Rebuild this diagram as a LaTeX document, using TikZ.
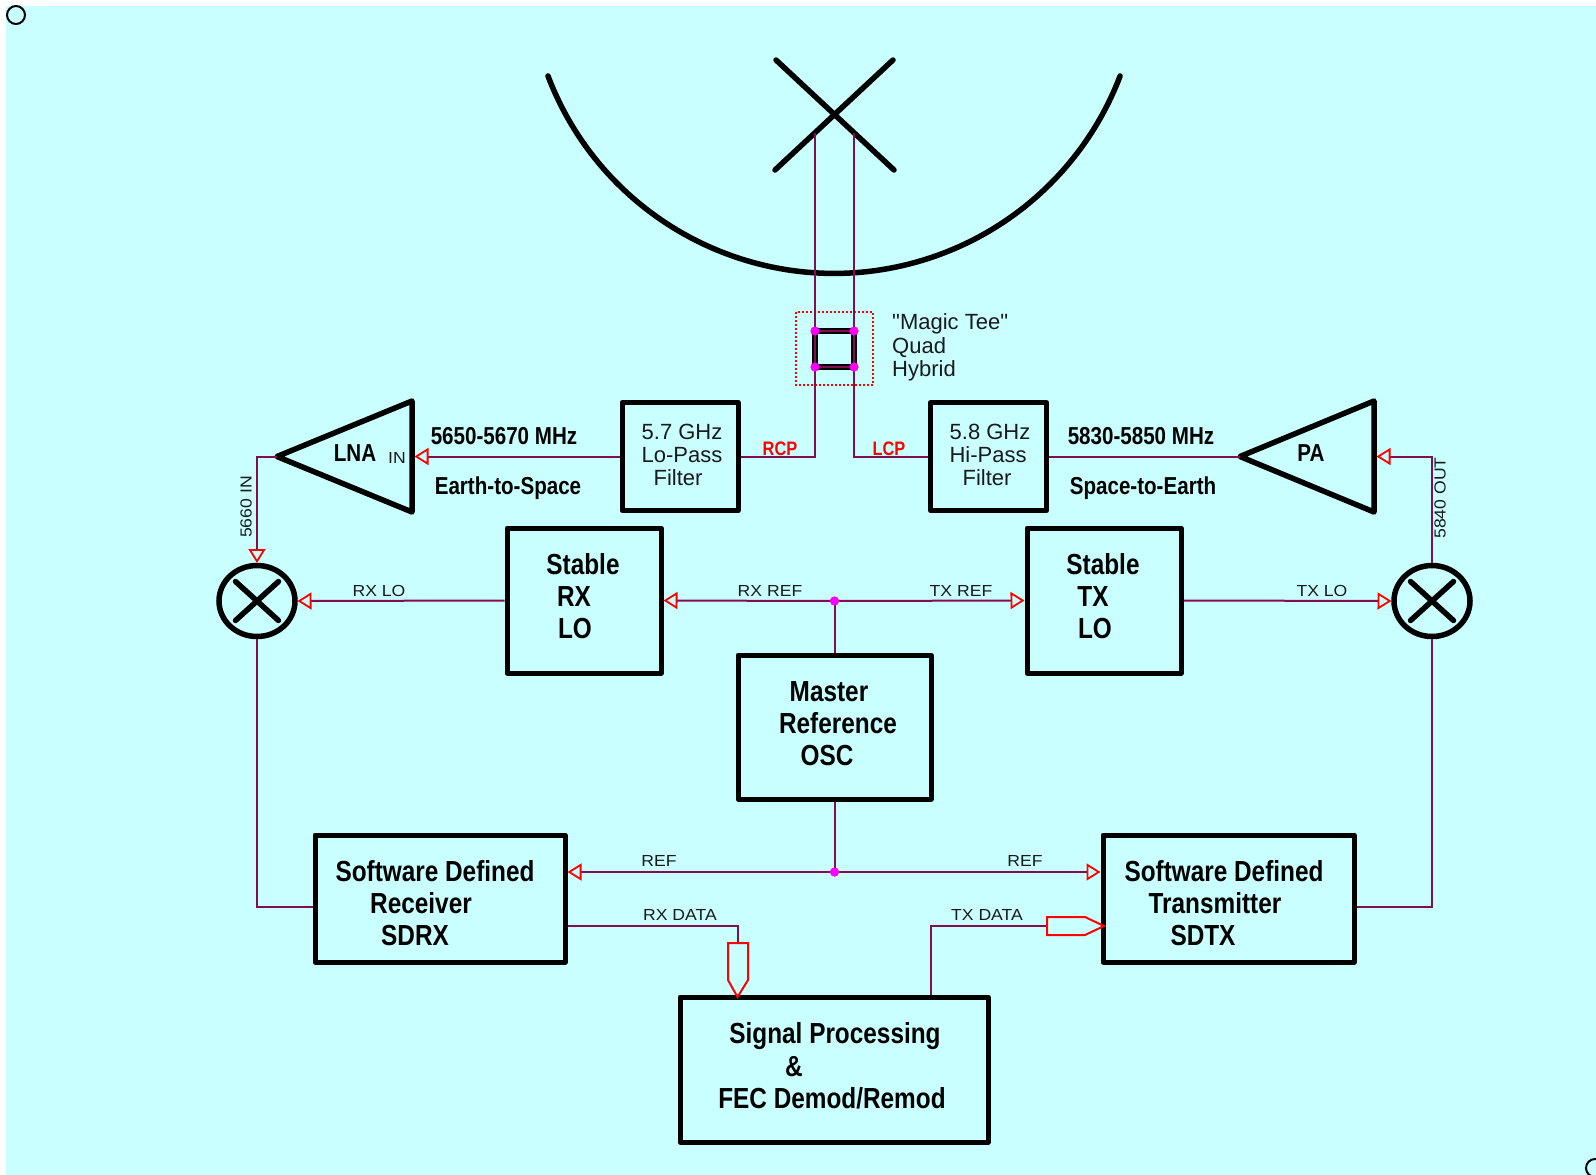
\documentclass[tikz,border=0pt]{standalone}
\usepackage{fontspec}
\setmainfont[Ligatures=TeXOff]{Liberation Sans}
\newfontfamily\narrowbold[FakeStretch=0.84]{Liberation Sans Bold}
\newfontfamily\widesans[FakeStretch=1.1]{Liberation Sans}
\usetikzlibrary{arrows.meta,shapes.geometric}
\definecolor{bgc}{HTML}{C9FFFF}
\definecolor{wirec}{HTML}{7F0F50}
\definecolor{inkc}{HTML}{1A1A1A}
\definecolor{dotc}{HTML}{FF00FF}
\tikzset{
  blk/.style={draw=black,line width=5pt,rectangle,inner sep=0pt,outer sep=2.5pt,line join=round},
  mixer/.style={draw=black,line width=5.5pt,ellipse,inner sep=0pt,outer sep=2.5pt,minimum width=76pt,minimum height=71pt},
  heavy/.style={draw=black,line width=5.5pt,line cap=round,line join=round},
  wire/.style={draw=wirec,line width=2pt},
  feed/.style={wire,-{Triangle[open,length=14pt,width=17pt,color=red,line width=1.8pt]}},
  bigarrow/.style={draw=red,line width=2pt,line join=miter},
  junction/.style={circle,fill=dotc,inner sep=0pt,minimum size=9pt},
  hbig/.style={font=\narrowbold\fontsize{29}{29}\selectfont,text=black,inner sep=0pt},
  hmid/.style={font=\narrowbold\fontsize{24.5}{24.5}\selectfont,text=black,inner sep=0pt},
  plain/.style={font=\fontsize{22}{22}\selectfont,text=inkc,inner sep=0pt},
  small/.style={font=\widesans\fontsize{16}{16}\selectfont,text=inkc,inner sep=0pt},
  redlab/.style={font=\narrowbold\fontsize{19.5}{19.5}\selectfont,text=red,inner sep=0pt},
}
\begin{document}
\begin{tikzpicture}[x=1pt,y=-1pt]
\useasboundingbox (0,0) rectangle (1596,1175);
\fill[bgc] (6,6) rectangle (1596,1175);
\draw[black,line width=2pt] (16,15) circle[radius=9];
\draw[black,line width=2pt] (1595,1168) circle[radius=9];

% dish and feed
\draw[heavy] (548,76) arc[start angle=159.2,end angle=20.8,radius=306];
\draw[heavy] (776,60) -- (894,170);
\draw[heavy] (893,60) -- (775,170);
\coordinate (feedL) at (815,133);
\coordinate (feedR) at (854,133);

% boxes
\node[blk,minimum width=116pt,minimum height=108pt] (lopass) at (680,456.5) {};
\node[blk,minimum width=116pt,minimum height=108pt] (hipass) at (988.5,456.5) {};
\node[blk,minimum width=154pt,minimum height=145pt] (rxlo) at (584,600.5) {};
\node[blk,minimum width=154pt,minimum height=145pt] (txlo) at (1104,600.5) {};
\node[blk,minimum width=193pt,minimum height=144pt] (master) at (834.5,727) {};
\node[blk,minimum width=250pt,minimum height=127pt] (sdrx) at (440,898.5) {};
\node[blk,minimum width=251pt,minimum height=127pt] (sdtx) at (1228.5,898.5) {};
\node[blk,minimum width=308pt,minimum height=145pt] (dsp) at (834,1069.5) {};

% amplifiers
\coordinate (lnatip) at (277,456.5);
\coordinate (lnain) at (414.5,456.5);
\draw[heavy] (lnatip) -- (412,401) -- (412,512) -- cycle;
\coordinate (patip) at (1240,456.5);
\coordinate (pain) at (1376.5,456.5);
\draw[heavy] (patip) -- (1374,401) -- (1374,512) -- cycle;

% mixers
\node[mixer] (mixl) at (257,601) {};
\node[mixer] (mixr) at (1432,601) {};
\draw[heavy] (235.5,581.5) -- (278.5,620.5);
\draw[heavy] (278.5,581.5) -- (235.5,620.5);
\draw[heavy] (1410.5,581.5) -- (1453.5,620.5);
\draw[heavy] (1453.5,581.5) -- (1410.5,620.5);

% magic tee
\draw[red,line width=1.5pt,dash pattern=on 2pt off 2pt] (796,312) rectangle (873,385);
\node[junction] (qa) at (815,331) {};
\node[junction] (qb) at (854,331) {};
\node[junction] (qc) at (854,367) {};
\node[junction] (qd) at (815,367) {};
\draw[heavy,line cap=butt] (qa.center) -- (qb.center) -- (qc.center) -- (qd.center) -- cycle;
\draw[wire] (qa.center) -- (qb.center) -- (qc.center) -- (qd.center) -- cycle;

% connectors
\coordinate (rcpc) at (815,457);
\coordinate (lcpc) at (854,457);
\draw[wire] (lopass.east |- rcpc) -- (rcpc) -- (feedL);
\draw[wire] (hipass.west |- lcpc) -- (lcpc) -- (feedR);
\node[junction] at (qa) {};
\node[junction] at (qb) {};
\node[junction] at (qc) {};
\node[junction] at (qd) {};
\draw[feed] (lopass.west) -- (lnain);
\draw[wire] (hipass.east) -- (patip);
\coordinate (lnaout) at (257,456.5);
\draw[feed] (lnatip) -- (lnaout) -- (mixl.north);
\coordinate (paout) at (1432,456.5);
\draw[feed] (mixr.north) -- (paout) -- (pain);
\draw[feed] (rxlo.west) -- (mixl.east);
\draw[feed] (txlo.east) -- (mixr.west);
\node[junction] (refa) at (834.5,601) {};
\draw[feed] (refa.center) -- (rxlo.east);
\draw[feed] (refa.center) -- (txlo.west);
\draw[wire] (refa.center) -- (master.north);
\node[junction] at (refa) {};
\node[junction] (refb) at (834.5,872) {};
\draw[wire] (master.south) -- (refb.center);
\draw[feed] (refb.center) -- (sdrx.east |- refb);
\draw[feed] (refb.center) -- (sdtx.west |- refb);
\node[junction] at (refb) {};
\coordinate (rxtap) at (257,907);
\coordinate (txtap) at (1432,907);
\draw[wire] (mixl.south) -- (rxtap) -- (sdrx.west |- rxtap);
\draw[wire] (mixr.south) -- (txtap) -- (sdtx.east |- txtap);
\coordinate (rxd) at (738,926);
\coordinate (rxdb) at (738,943);
\draw[wire] (sdrx.east |- rxd) -- (rxd) -- (rxdb);
\coordinate (txd) at (931,926);
\coordinate (txdb) at (1047,926);
\draw[wire] (dsp.north -| txd) -- (txd) -- (txdb);
\draw[bigarrow] (728,943) -- (748,943) -- (748,980) -- (737.5,997) -- (728,980) -- cycle;
\draw[bigarrow] (1047,917) -- (1085,917) -- (1104,926) -- (1085,935) -- (1047,935) -- cycle;

% block texts
\node[hbig] (t1) at (583,564) {Stable};
\node[hbig] (t2) at (574,597) {RX};
\node[hbig] (t3) at (575,629) {LO};
\node[hbig] (t4) at (1103,564) {Stable};
\node[hbig] (t5) at (1093,597) {TX};
\node[hbig] (t6) at (1095,629) {LO};
\node[hbig] (t7) at (829,692) {Master};
\node[hbig] (t8) at (838,723) {Reference};
\node[hbig] (t9) at (827,756) {OSC};
\node[hbig] (t10) at (435,871) {Software Defined};
\node[hbig] (t11) at (421,903) {Receiver};
\node[hbig] (t12) at (415,936) {SDRX};
\node[hbig] (t13) at (1224,871) {Software Defined};
\node[hbig] (t14) at (1215,903) {Transmitter};
\node[hbig] (t15) at (1203,936) {SDTX};
\node[hbig] (t16) at (835,1036) {Signal Processing};
\node[hbig] (t17) at (794,1067) {\&};
\node[hbig] (t18) at (832,1098) {FEC Demod/Remod};
\node[plain] (t19) at (682,432) {5.7 GHz};
\node[plain] (t20) at (682,455) {Lo-Pass};
\node[plain] (t21) at (678,478) {Filter};
\node[plain] (t22) at (990,432) {5.8 GHz};
\node[plain] (t23) at (988,455) {Hi-Pass};
\node[plain] (t24) at (987,478) {Filter};
\node[plain,anchor=west] (t25) at (892,324) {"Magic Tee"};
\node[plain,anchor=west] (t26) at (892,348) {Quad};
\node[plain,anchor=west] (t27) at (892,371) {Hybrid};
\node[hmid] (t28) at (355,453) {LNA};
\node[small] (t29) at (397,458) {IN};
\node[hmid] (t30) at (1311,453) {PA};
\node[hmid] (t31) at (504,436) {5650-5670 MHz};
\node[hmid] (t32) at (508,488) {Earth-to-Space};
\node[hmid] (t33) at (1141,436) {5830-5850 MHz};
\node[hmid] (t34) at (1143,488) {Space-to-Earth};
\node[redlab] (t35) at (780,449) {RCP};
\node[redlab] (t36) at (889,449) {LCP};
\node[small] (t37) at (379,591) {RX LO};
\node[small] (t38) at (770,591) {RX REF};
\node[small] (t39) at (961,591) {TX REF};
\node[small] (t40) at (1322,591) {TX LO};
\node[small] (t41) at (659,861) {REF};
\node[small] (t42) at (1025,861) {REF};
\node[small] (t43) at (680,915) {RX DATA};
\node[small] (t44) at (987,915) {TX DATA};
\node[small,rotate=90] (t45) at (246,507) {5660 IN};
\node[small,rotate=90] (t46) at (1440,498) {5840 OUT};
\end{tikzpicture}
\end{document}
